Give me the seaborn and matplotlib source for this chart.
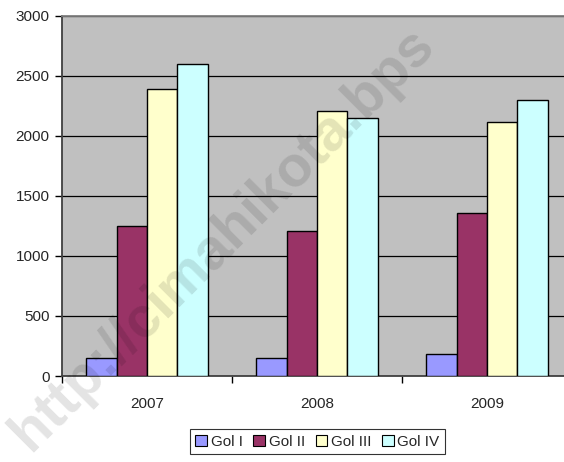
import pandas as pd
import seaborn as sns
import matplotlib.pyplot as plt
from matplotlib.patches import Patch

years = ["2007", "2008", "2009"]
groups = ["Gol I", "Gol II", "Gol III", "Gol IV"]
gol_1 = [150, 150, 185]
gol_2 = [1250, 1210, 1355]
gol_3 = [2390, 2205, 2115]
gol_4 = [2600, 2150, 2300]
colors = ["#9999FF", "#993366", "#FFFFCC", "#CCFFFF"]
watermark = "http://cimahikota.bps"


def main():
    sns.set_theme(style="white")
    plt.rcParams["font.family"] = ["Liberation Sans", "DejaVu Sans"]

    df = pd.DataFrame({
        "Tahun": years * 4,
        "Golongan": [g for g in groups for _ in years],
        "Jumlah": gol_1 + gol_2 + gol_3 + gol_4,
    })

    fig = plt.figure(figsize=(5.64, 4.62), dpi=100)
    ax = fig.add_axes([62 / 564, 1 - 376 / 462, 510 / 564, 360.5 / 462])
    sns.barplot(data=df, x="Tahun", y="Jumlah", hue="Golongan",
                palette=colors, edgecolor="black", linewidth=1,
                width=0.714, saturation=1, legend=False, ax=ax, zorder=3)

    ax.set_facecolor("#C0C0C0")
    ax.set_xlim(-0.5, 2.5)
    ax.set_ylim(0, 3000)
    ax.set_yticks(range(0, 3001, 500))
    ax.yaxis.grid(True, color="black", linewidth=0.9)
    ax.set_axisbelow(True)
    ax.set_xlabel("")
    ax.set_ylabel("")
    ax.set_xticks([0, 1, 2])
    ax.set_xticks([-0.5, 0.5, 1.5, 2.5], minor=True)
    ax.tick_params(axis="x", which="major", length=0, pad=15, labelsize=11)
    ax.tick_params(axis="x", which="minor", length=5, width=1, color="black",
                   bottom=True)
    ax.tick_params(axis="y", length=5, width=1, color="black", left=True,
                   labelsize=11, pad=4)
    for side in ["left", "bottom"]:
        ax.spines[side].set_color("#404040")
        ax.spines[side].set_linewidth(1.3)
    ax.spines["top"].set_color("#808080")
    ax.spines["top"].set_linewidth(1.3)
    ax.spines["right"].set_visible(False)

    handles = [Patch(facecolor=c, edgecolor="black", linewidth=0.8) for c in colors]
    leg = fig.legend(handles, groups, loc="upper center",
                     bbox_to_anchor=(0.563, 0.071), ncol=4, fontsize=11,
                     frameon=True, fancybox=False, edgecolor="black",
                     handlelength=0.75, handleheight=0.75, handletextpad=0.25,
                     columnspacing=0.7, borderpad=0.35, borderaxespad=0)
    leg.get_frame().set_linewidth(0.8)

    # faint watermark as in the source image
    fig.text(0.002, 0.002, watermark, rotation=45,
             fontsize=41, fontweight="bold", color="black", alpha=0.11,
             ha="left", va="bottom", zorder=10)

    fig.savefig("out.png", dpi=100)


if __name__ == "__main__":
    main()
